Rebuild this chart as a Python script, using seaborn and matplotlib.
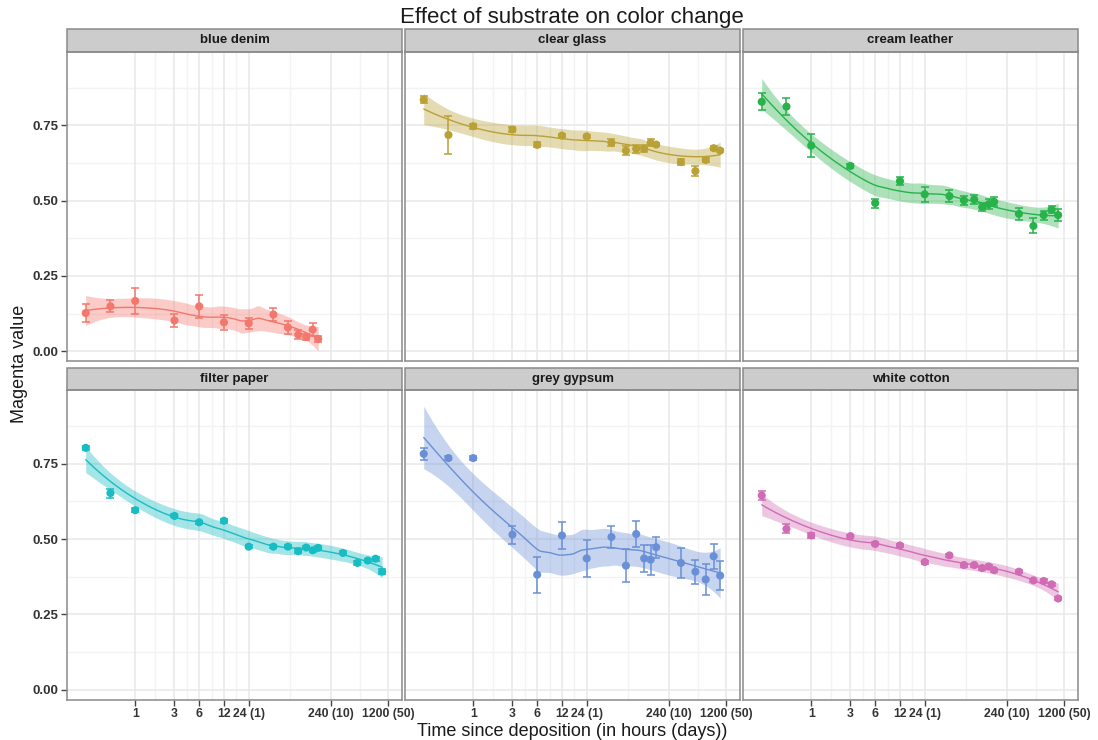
import numpy as np
import pandas as pd
import matplotlib
matplotlib.use("Agg")
import matplotlib.pyplot as plt
from matplotlib.patches import Rectangle
from matplotlib.ticker import NullLocator
import seaborn as sns

# ---- data: mean magenta value (and error half-width) per sampling time ----
times = [0.25, 0.5, 1, 3, 6, 12, 24, 48, 72, 96, 120, 144, 168, 336, 504, 672, 840, 1008]

substrates = ["blue denim", "clear glass", "cream leather",
              "filter paper", "grey gypsum", "white cotton"]

blue_denim = [0.127, 0.149, 0.167, 0.102, 0.149, 0.096, 0.093, 0.122, 0.079,
              0.055, 0.047, 0.072, 0.041]
blue_denim_err = [0.030, 0.020, 0.044, 0.023, 0.038, 0.026, 0.018, 0.021, 0.021,
                  0.014, 0.010, 0.022, 0.010]

clear_glass = [0.835, 0.718, 0.747, 0.736, 0.685, 0.716, 0.713, 0.692, 0.666,
               0.672, 0.672, 0.692, 0.686, 0.628, 0.598, 0.635, 0.674, 0.666]
clear_glass_err = [0.012, 0.063, 0.008, 0.008, 0.008, 0.006, 0.006, 0.012, 0.015,
                   0.013, 0.012, 0.012, 0.006, 0.010, 0.017, 0.006, 0.006, 0.006]

cream_leather = [0.828, 0.812, 0.683, 0.615, 0.492, 0.565, 0.521, 0.515, 0.501,
                 0.504, 0.479, 0.488, 0.496, 0.456, 0.416, 0.452, 0.470, 0.452]
cream_leather_err = [0.028, 0.028, 0.039, 0.006, 0.015, 0.012, 0.025, 0.020, 0.015,
                     0.015, 0.013, 0.016, 0.015, 0.020, 0.025, 0.015, 0.012, 0.020]

filter_paper = [0.803, 0.653, 0.596, 0.577, 0.556, 0.561, 0.475, 0.475, 0.475,
                0.460, 0.472, 0.463, 0.471, 0.454, 0.421, 0.429, 0.435, 0.392]
filter_paper_err = [0.006, 0.015, 0.006, 0.005, 0.005, 0.006, 0.005, 0.005, 0.005,
                    0.006, 0.005, 0.005, 0.005, 0.005, 0.006, 0.005, 0.006, 0.008]

grey_gypsum = [0.783, 0.769, 0.769, 0.515, 0.382, 0.512, 0.436, 0.507, 0.412,
               0.517, 0.436, 0.432, 0.473, 0.421, 0.392, 0.366, 0.443, 0.379]
grey_gypsum_err = [0.020, 0.006, 0.006, 0.030, 0.060, 0.045, 0.062, 0.035, 0.055,
                   0.043, 0.045, 0.050, 0.035, 0.050, 0.040, 0.052, 0.042, 0.047]

white_cotton = [0.645, 0.534, 0.512, 0.510, 0.484, 0.479, 0.424, 0.446, 0.414,
                0.414, 0.404, 0.409, 0.397, 0.392, 0.363, 0.361, 0.350, 0.303]
white_cotton_err = [0.015, 0.015, 0.008, 0.005, 0.005, 0.005, 0.005, 0.005, 0.005,
                    0.005, 0.005, 0.005, 0.005, 0.005, 0.005, 0.005, 0.006, 0.006]

x_breaks = [1, 3, 6, 12, 24, 240, 1200]
x_labels = ["1", "3", "6", "12", "24 (1)", "240 (10)", "1200 (50)"]
y_breaks = [0.0, 0.25, 0.5, 0.75]
y_labels = ["0.00", "0.25", "0.50", "0.75"]

colors = ["#F2776D", "#B9A135", "#27B24A", "#17BDC2", "#6990D6", "#D06BB4"]

series = {
    "blue denim": (blue_denim, blue_denim_err),
    "clear glass": (clear_glass, clear_glass_err),
    "cream leather": (cream_leather, cream_leather_err),
    "filter paper": (filter_paper, filter_paper_err),
    "grey gypsum": (grey_gypsum, grey_gypsum_err),
    "white cotton": (white_cotton, white_cotton_err),
}

rows = []
for name, (vals, errs) in series.items():
    for t, v, e in zip(times, vals, errs):
        rows.append({"substrate": name, "time": t, "value": v, "err": e})
df = pd.DataFrame(rows)


# ---- local quadratic regression (loess, span 0.75) with a 95% band ----
def t_quantile_975(nu):
    z = 1.959964
    return (z + (z**3 + z) / (4 * nu)
            + (5 * z**5 + 16 * z**3 + 3 * z) / (96 * nu**2)
            + (3 * z**7 + 19 * z**5 + 17 * z**3 - 15 * z) / (384 * nu**3))


def loess_band(xl, y, grid, span=0.75):
    n = len(xl)
    q = int(np.floor(n * span))

    def smoother_row(x0):
        d = np.abs(xl - x0)
        h = np.sort(d)[q - 1] * 1.0000001
        u = np.clip(d / h, 0, 1)
        w = (1 - u**3) ** 3
        X = np.column_stack([np.ones(n), xl - x0, (xl - x0) ** 2])
        XtW = X.T * w
        return np.linalg.solve(XtW @ X, XtW)[0]

    Lg = np.array([smoother_row(g) for g in grid])
    Ld = np.array([smoother_row(v) for v in xl])
    fit = Lg @ y
    res = y - Ld @ y
    M = np.eye(n) - Ld
    MM = M.T @ M
    d1 = np.trace(MM)
    d2 = np.trace(MM @ MM)
    s = np.sqrt(res @ res / d1)
    se = s * np.sqrt((Lg**2).sum(axis=1))
    tq = t_quantile_975(d1**2 / d2)
    return fit, fit - tq * se, fit + tq * se


# ---- figure ----
sns.set_style("white")
plt.rcParams["font.family"] = ["Liberation Sans", "DejaVu Sans"]
plt.rcParams["axes.grid"] = False

W, H = 1098, 740
fig = plt.figure(figsize=(W / 100, H / 100), dpi=100)

pw, ph = 335, 310
lefts = [67, 405, 743]
tops = [51.5, 390]
strip_px = 22.5

xlim = (0.148, 1757)
ylim = (-0.034, 0.995)
minor_x = [np.sqrt(a * b) for a, b in zip(x_breaks[:-1], x_breaks[1:])]
minor_y = [0.125, 0.375, 0.625, 0.875]

for i, name in enumerate(substrates):
    r, c = divmod(i, 3)
    ax = fig.add_axes([lefts[c] / W, 1 - (tops[r] + ph) / H, pw / W, ph / H])
    col = colors[i]
    sub = df[df["substrate"] == name]

    ax.set_xscale("log")

    # smooth + band
    xl = np.log10(sub["time"].to_numpy())
    yv = sub["value"].to_numpy()
    grid = np.linspace(xl.min(), xl.max(), 80)
    fit, lo, hi = loess_band(xl, yv, grid)
    ax.fill_between(10**grid, lo, hi, color=col, alpha=0.38, lw=0, zorder=1)
    sns.lineplot(x=10**grid, y=fit, ax=ax, color=col, lw=1.0, zorder=2)

    # error bars and points
    ax.errorbar(sub["time"], sub["value"], yerr=sub["err"], fmt="none",
                ecolor=col, elinewidth=1.1, capsize=3, capthick=1.1, zorder=3)
    sns.scatterplot(data=sub, x="time", y="value", ax=ax, color=col, s=34,
                    edgecolor="none", linewidth=0, zorder=4, legend=False)

    ax.grid(False, which="both")
    ax.set_xlim(*xlim)
    ax.set_ylim(*ylim)
    ax.set_xlabel("")
    ax.set_ylabel("")
    ax.set_xticks(x_breaks)
    ax.set_yticks(y_breaks)
    ax.xaxis.set_minor_locator(NullLocator())
    ax.yaxis.set_minor_locator(NullLocator())

    # panel grid: minor lines between breaks, major lines at breaks
    for mx in minor_x:
        ax.axvline(mx, color="#F3F3F3", lw=1.0, zorder=0)
    for my in minor_y:
        ax.axhline(my, color="#F3F3F3", lw=1.0, zorder=0)
    for bx in x_breaks:
        ax.axvline(bx, color="#E8E8E8", lw=1.1, zorder=0.5)
    for by in y_breaks:
        ax.axhline(by, color="#E8E8E8", lw=1.1, zorder=0.5)

    if r == 1:
        ax.set_xticklabels(x_labels)
        ax.tick_params(axis="x", length=4, width=1, color="#444444", bottom=True,
                       labelsize=8.8, labelcolor="#333333", pad=2)
    else:
        ax.tick_params(axis="x", bottom=False, labelbottom=False)
    if c == 0:
        ax.set_yticklabels(y_labels)
        ax.tick_params(axis="y", length=4, width=1, color="#444444", left=True,
                       labelsize=9.5, labelcolor="#333333", pad=2)
    else:
        ax.tick_params(axis="y", left=False, labelleft=False)
    for lab in ax.get_xticklabels() + ax.get_yticklabels():
        lab.set_fontweight("bold")

    for sp in ax.spines.values():
        sp.set_color("#8A8A8A")
        sp.set_linewidth(1.1)
        sp.set_visible(True)

    # facet strip
    sh = strip_px / ph
    ax.add_patch(Rectangle((0, 1), 1, sh, transform=ax.transAxes, clip_on=False,
                           facecolor="#CCCCCC", edgecolor="#8A8A8A", lw=1.1))
    ax.text(0.5, 1 + sh / 2, name, transform=ax.transAxes, ha="center",
            va="center", fontsize=9.5, fontweight="bold", color="#1A1A1A")

fig.text(572 / W, 1 - 17 / H, "Effect of substrate on color change",
         ha="center", va="center", fontsize=16, color="#1A1A1A")
fig.text(572 / W, 1 - 731 / H, "Time since deposition (in hours (days))",
         ha="center", va="center", fontsize=13, color="#1A1A1A")
fig.text(20 / W, 1 - 364 / H, "Magenta value", rotation=90,
         ha="center", va="center", fontsize=13, color="#1A1A1A")

fig.savefig("out.png", dpi=100)
